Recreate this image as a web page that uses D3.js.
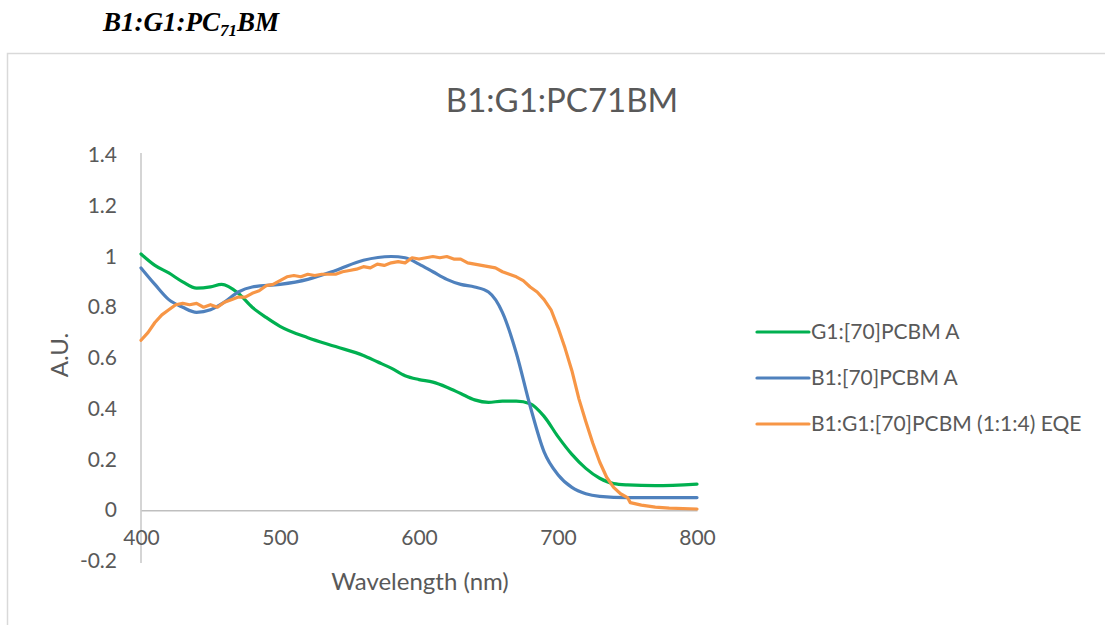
<!DOCTYPE html>
<html><head><meta charset="utf-8">
<script src="https://cdn.jsdelivr.net/npm/d3@7"></script>
<style>body{margin:0;background:#fff;} svg{display:block;}</style>
</head><body>
<script>
const greenWl = [400,410,420,430,440,450,458,470,480,490,500,520,540,560,570,580,590,600,610,620,630,640,650,660,670,680,690,700,710,720,730,740,750,770,800];
const greenVal = [1.01,0.965,0.935,0.90,0.875,0.88,0.89,0.855,0.80,0.76,0.725,0.68,0.645,0.61,0.585,0.56,0.53,0.515,0.505,0.485,0.46,0.435,0.425,0.43,0.43,0.42,0.37,0.29,0.22,0.165,0.126,0.105,0.10,0.097,0.103];
const blueWl = [400,410,420,430,440,450,460,470,480,500,520,540,560,580,590,600,610,620,630,640,650,660,670,680,690,700,710,720,730,750,800];
const blueVal = [0.955,0.89,0.83,0.80,0.78,0.79,0.82,0.86,0.88,0.89,0.91,0.945,0.985,1.0,0.995,0.97,0.94,0.91,0.89,0.88,0.86,0.78,0.62,0.41,0.23,0.14,0.09,0.065,0.055,0.05,0.05];
const orangeWl = [400,405,410,415,420,425,430,435,440,445,450,455,460,465,470,475,480,485,490,495,500,505,510,515,520,525,530,535,540,545,550,555,560,565,570,575,580,585,590,595,600,605,610,615,620,625,630,635,640,645,650,655,660,665,670,675,680,685,690,695,700,705,710,715,720,725,730,735,740,745,750,752,760,770,780,800];
const orangeVal = [0.67,0.70,0.74,0.77,0.79,0.81,0.815,0.81,0.815,0.80,0.81,0.80,0.82,0.83,0.84,0.84,0.855,0.865,0.885,0.89,0.905,0.92,0.925,0.92,0.93,0.925,0.93,0.93,0.93,0.94,0.945,0.95,0.96,0.955,0.97,0.965,0.975,0.98,0.975,0.995,0.99,0.995,1.0,0.995,1.0,0.99,0.99,0.975,0.97,0.965,0.96,0.955,0.94,0.93,0.92,0.905,0.88,0.86,0.83,0.79,0.72,0.64,0.55,0.44,0.35,0.265,0.19,0.13,0.09,0.065,0.05,0.03,0.02,0.012,0.008,0.005];
const seriesNames = ["G1:[70]PCBM A","B1:[70]PCBM A","B1:G1:[70]PCBM (1:1:4) EQE"];
const seriesColors = ["#00b050","#4f81bd","#f79646"];
const xTicks = [400,500,600,700,800];
const yTicks = [-0.2,0,0.2,0.4,0.6,0.8,1,1.2,1.4];
const chartTitle = "B1:G1:PC71BM";
const xLabel = "Wavelength (nm)";
const yLabel = "A.U.";

const W = 1105, H = 625;
const svg = d3.select("body").append("svg").attr("width", W).attr("height", H);
const font = "Lato, 'Open Sans', sans-serif";
const txt = "#595959";

// page heading
const head = svg.append("text").attr("x", 103).attr("y", 31)
  .attr("font-family", "'Liberation Serif', 'Times New Roman', serif")
  .attr("font-weight", "bold").attr("font-style", "italic").attr("font-size", 27).attr("fill", "#000");
head.append("tspan").text("B1:G1:PC");
head.append("tspan").text("71").attr("font-size", 17).attr("dy", 5);
head.append("tspan").text("BM").attr("dy", -5);

// chart frame
svg.append("path").attr("d", "M7.5,625 L7.5,53.5 L1105,53.5").attr("fill", "none").attr("stroke", "#d9d9d9").attr("stroke-width", 1.5);

const x = d3.scaleLinear().domain([400, 800]).range([141, 697]);
const y = d3.scaleLinear().domain([-0.2, 1.4]).range([561, 155]);

// y axis
const ya = svg.append("g").attr("transform", "translate(141,0)")
  .call(d3.axisLeft(y).tickValues(yTicks).tickSize(0).tickPadding(24).tickFormat(d3.format("~g")));
ya.select(".domain").attr("stroke", "#bfbfbf").attr("stroke-width", 1.3).attr("d", `M0,${y(1.4)-2}V${y(-0.2)+2}`);
ya.selectAll("text").attr("font-family", font).attr("font-size", 21).attr("fill", txt).text(d => d3.format("~g")(d).replace("−","-"));

// x axis at zero
const xa = svg.append("g").attr("transform", `translate(0,${y(0)})`)
  .call(d3.axisBottom(x).tickValues(xTicks).tickSize(0).tickPadding(20).tickFormat(d3.format("d")));
xa.select(".domain").attr("stroke", "#bfbfbf").attr("stroke-width", 1.3);
xa.selectAll("text").attr("font-family", font).attr("font-size", 21).attr("fill", txt);

// titles
svg.append("text").attr("x", 562).attr("y", 112).attr("text-anchor", "middle")
  .attr("font-family", font).attr("font-size", 33).attr("fill", txt).text(chartTitle);
svg.append("text").attr("x", 420).attr("y", 590).attr("text-anchor", "middle")
  .attr("font-family", font).attr("font-size", 24).attr("fill", txt).text(xLabel);
svg.append("text").attr("transform", "translate(68,355) rotate(-90)").attr("text-anchor", "middle")
  .attr("font-family", font).attr("font-size", 24).attr("fill", txt).text(yLabel);

// series
const series = [
  {wl: greenWl, v: greenVal, curve: d3.curveMonotoneX},
  {wl: blueWl, v: blueVal, curve: d3.curveMonotoneX},
  {wl: orangeWl, v: orangeVal, curve: d3.curveLinear}
];
series.forEach((s, i) => {
  const pts = s.wl.map((w, j) => [w, s.v[j]]);
  const line = d3.line().x(d => x(d[0])).y(d => y(d[1])).curve(s.curve);
  svg.append("path").datum(pts).attr("d", line).attr("fill", "none")
    .attr("stroke", seriesColors[i]).attr("stroke-width", 3.2)
    .attr("stroke-linejoin", "round").attr("stroke-linecap", "round");
});

// legend
const lg = svg.append("g");
seriesNames.forEach((n, i) => {
  const yy = 332 + i * 46;
  lg.append("line").attr("x1", 757).attr("x2", 809).attr("y1", yy).attr("y2", yy)
    .attr("stroke", seriesColors[i]).attr("stroke-width", 3.2).attr("stroke-linecap", "round");
  lg.append("text").attr("x", 811).attr("y", yy).attr("dy", "0.35em")
    .attr("font-family", font).attr("font-size", 21).attr("fill", txt).text(n);
});
</script>
</body></html>
